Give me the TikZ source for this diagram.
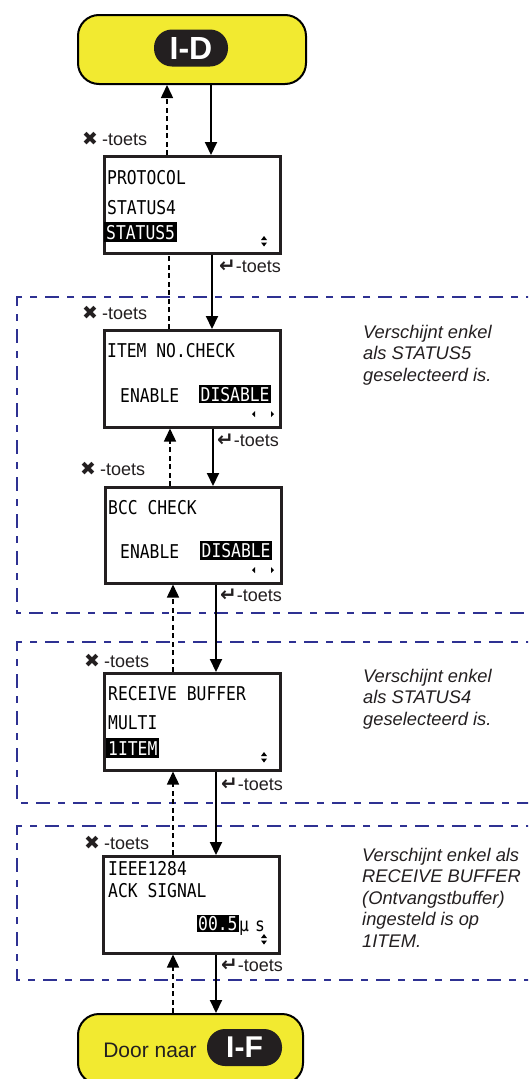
\documentclass[tikz,border=0pt]{standalone}
\usepackage{fontspec}
\setmainfont{Liberation Sans}
\newfontfamily\lcd[FakeStretch=0.86]{DejaVu Sans Mono}
\newfontfamily\symf{DejaVu Sans}
\usetikzlibrary{arrows.meta}
\definecolor{yel}{RGB}{242,234,48}
\definecolor{dk}{RGB}{35,31,32}
\definecolor{navy}{RGB}{46,49,146}
\definecolor{txt}{RGB}{35,31,32}
\newcommand\lcdf{\lcd\fontsize{19}{19}\selectfont}
\newcommand\lblf{\fontsize{18}{18}\selectfont}
\newcommand\notef{\fontsize{18.3}{21.5}\selectfont\itshape}
\newcommand\xsym{{\symf\fontsize{19}{19}\selectfont ✖}}
\newcommand\esym{{\symf\bfseries\fontsize{20}{20}\selectfont ↵}}
\begin{document}
\begin{tikzpicture}[x=1pt,y=-1pt,
  lcdbox/.style={draw=dk,line width=2.5pt,fill=white,minimum width=176pt,minimum height=97pt,anchor=north west,inner sep=0pt},
  lcdtxt/.style={font=\lcdf,text=black,inner sep=0pt,text height=14pt,text depth=0pt,anchor=west},
  lcdhi/.style={lcdtxt,fill=black,text=white,inner xsep=2pt,inner ysep=3pt},
  yelbox/.style={draw=black,line width=2pt,fill=yel,rounded corners=21pt,anchor=north west,inner sep=0pt},
  pill/.style={fill=dk,rounded corners=18pt,minimum height=37pt,inner sep=0pt,text=white,font=\bfseries},
  lbl/.style={font=\lblf,text=txt,inner sep=0pt,anchor=west},
  note/.style={font=\notef,text=txt,inner sep=0pt,anchor=base west,align=left},
  region/.style={draw=navy,line width=2.4pt,dash pattern=on 14pt off 8pt on 7pt off 8pt},
  sarrow/.style={draw=black,line width=2pt,-{Triangle[length=13pt,width=12pt]}},
  dline/.style={draw=black,line width=1.5pt,dash pattern=on 5pt off 3.5pt},
  darrow/.style={dline,-{Triangle[length=13pt,width=12pt]}},
  tri/.style={fill=black,draw=none}
]
\clip (0,0) rectangle (528,1079);
\useasboundingbox (0,0) rectangle (528,1079);
\fill[white] (0,0) rectangle (528,1079);

% dashed regions
\draw[region] (540,297) -- (17,297) -- (17,613) -- (540,613);
\draw[region] (540,642) -- (17,642) -- (17,803) -- (540,803);
\draw[region] (540,826) -- (17,826) -- (17,980) -- (540,980);

% yellow start / end
\node[yelbox,minimum width=228pt,minimum height=69pt] (yd) at (77,14) {};
\node[pill,minimum width=74pt,font=\fontsize{32}{32}\selectfont\bfseries] (pd) at (191,48) {I-D};
\node[yelbox,minimum width=225pt,minimum height=70pt] (yf) at (77,1013) {};
\node[lbl,font=\fontsize{21}{21}\selectfont,anchor=center] (door) at (150,1050) {Door naar};
\node[pill,minimum width=75pt,font=\fontsize{30}{30}\selectfont\bfseries] (pf) at (244.5,1047.5) {I-F};

% LCD boxes
\node[lcdbox] (b1) at (103,155) {};
\node[lcdbox] (b2) at (103,329) {};
\node[lcdbox,minimum height=96pt] (b3) at (104,486) {};
\node[lcdbox] (b4) at (103,672) {};
\node[lcdbox] (b5) at (102,855) {};

% box 1
\node[lcdtxt] (t11) at (107,177) {PROTOCOL};
\node[lcdtxt] (t12) at (107,207) {STATUS4};
\node[lcdhi] (t13) at (104,232) {STATUS5};
\fill[tri] (261,240) -- (267,240) -- (264,236) -- cycle;
\fill[tri] (261,242.5) -- (267,242.5) -- (264,246.5) -- cycle;

% box 2
\node[lcdtxt] (t21) at (107,350) {ITEM NO.CHECK};
\node[lcdtxt] (t22) at (120,395) {ENABLE};
\node[lcdhi,inner xsep=1.5pt,inner ysep=2pt] (t23) at (199,394) {DISABLE};
\fill[tri] (255,411) -- (255,417) -- (252,414) -- cycle;
\fill[tri] (271,411) -- (271,417) -- (274,414) -- cycle;

% box 3
\node[lcdtxt] (t31) at (108,507) {BCC CHECK};
\node[lcdtxt] (t32) at (120,551) {ENABLE};
\node[lcdhi,inner xsep=1.5pt,inner ysep=2.5pt] (t33) at (200,550) {DISABLE};
\fill[tri] (255,567) -- (255,573) -- (252,570) -- cycle;
\fill[tri] (271,567) -- (271,573) -- (274,570) -- cycle;

% box 4
\node[lcdtxt] (t41) at (108,693) {RECEIVE BUFFER};
\node[lcdtxt] (t42) at (108,722) {MULTI};
\node[lcdhi] (t43) at (106,748) {1ITEM};
\fill[tri] (261,756) -- (267,756) -- (264,752) -- cycle;
\fill[tri] (261,758.5) -- (267,758.5) -- (264,762.5) -- cycle;

% box 5
\node[lcdtxt] (t51) at (108,868) {IEEE1284};
\node[lcdtxt] (t52) at (108,890) {ACK SIGNAL};
\node[lcdhi,inner xsep=1pt,inner ysep=1.5pt] (t53) at (197,923) {00.5};
\node[lcdtxt] (t54) at (239,924) {μ\hspace{6pt}s};
\fill[tri] (261,938) -- (267,938) -- (264,934) -- cycle;
\fill[tri] (261,940.5) -- (267,940.5) -- (264,944.5) -- cycle;

% solid arrows (enter key)
\draw[sarrow] (yd.south -| 211,0) -- (b1.north -| 211,0);
\draw[sarrow] (b1.south -| 212,0) -- (b2.north -| 212,0);
\draw[sarrow] (b2.south -| 213,0) -- (b3.north -| 213,0);
\draw[sarrow] (b3.south -| 216,0) -- (b4.north -| 216,0);
\draw[sarrow] (b4.south -| 216,0) -- (b5.north -| 216,0);
\draw[sarrow] (b5.south -| 216,0) -- (yf.north -| 216,0);

% dashed arrows (cancel key)
\draw[darrow] (b1.north -| 167,0) -- (yd.south -| 167,0);
\draw[dline] (b2.north -| 169,0) -- (b1.south -| 169,0);
\draw[darrow] (b3.north -| 170,0) -- (b2.south -| 170,0);
\draw[darrow] (b4.north -| 173,0) -- (b3.south -| 173,0);
\draw[darrow] (b5.north -| 173,0) -- (b4.south -| 173,0);
\draw[darrow] (yf.north -| 173,0) -- (b5.south -| 173,0);

% x-toets labels
\node[lbl] (x1) at (82,139) {\xsym\hspace{4pt}-toets};
\node[lbl] (x2) at (82,313) {\xsym\hspace{4pt}-toets};
\node[lbl] (x3) at (80,469) {\xsym\hspace{4pt}-toets};
\node[lbl] (x4) at (84,661) {\xsym\hspace{4pt}-toets};
\node[lbl] (x5) at (84,843) {\xsym\hspace{4pt}-toets};

% enter-toets labels
\node[lbl] (e1) at (219,266) {\esym-toets};
\node[lbl] (e2) at (217,440) {\esym-toets};
\node[lbl] (e3) at (220,595) {\esym-toets};
\node[lbl] (e4) at (221,784) {\esym-toets};
\node[lbl] (e5) at (221,965) {\esym-toets};

% notes
\node[note] (n1) at (363,381) {Verschijnt enkel\\als STATUS5\\geselecteerd is.};
\node[note] (n2) at (363,725) {Verschijnt enkel\\als STATUS4\\geselecteerd is.};
\node[note] (n3) at (362,947) {Verschijnt enkel als\\RECEIVE BUFFER\\(Ontvangstbuffer)\\ingesteld is op\\1ITEM.};
\end{tikzpicture}
\end{document}
